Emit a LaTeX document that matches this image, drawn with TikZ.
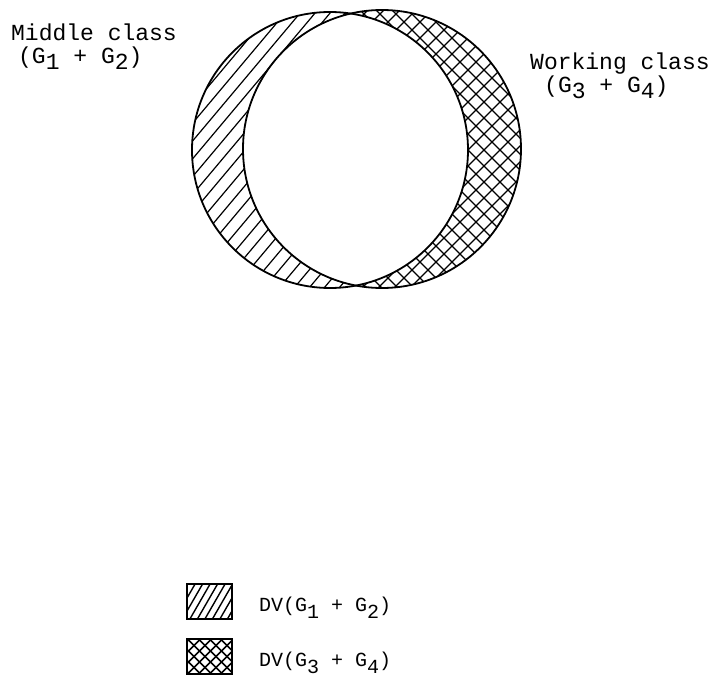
\documentclass[tikz,border=0pt]{standalone}
\usepackage{fontspec}
\setmonofont{Liberation Mono}
\newcommand\sbs[1]{\raisebox{-0.5ex}{#1}}
\newcommand\lsbs[1]{\raisebox{-0.7ex}{#1}}
\begin{document}
\begin{tikzpicture}[x=1pt,y=-1pt,
  lbl/.style={font=\ttfamily\fontsize{23}{23}\selectfont, inner sep=0pt, anchor=base west},
  leg/.style={font=\ttfamily\fontsize{20}{20}\selectfont, inner sep=0pt, anchor=base west},
  hatch/.style={line width=1.2pt},
  outline/.style={line width=1.8pt},
  legbox/.style={draw, line width=1.9pt, minimum width=45pt, minimum height=35pt, inner sep=0pt}]
\useasboundingbox (0,0) rectangle (716,683);
\coordinate (cl) at (330,150);
\coordinate (cr) at (382,149);
% left crescent: single hatching
\begin{scope}
  \clip (cl) circle (138);
  \foreach \x in {80,95,...,560}
    \draw[hatch] (\x,150) ++(-200,238) -- ++(400,-476);
\end{scope}
% right crescent: cross hatching
\begin{scope}
  \clip (cr) circle (139);
  \foreach \x in {100,116,...,700}
    {\draw[hatch] (\x,150) ++(-200,200) -- ++(400,-400);
     \draw[hatch] (\x,150) ++(-200,-200) -- ++(400,400);}
\end{scope}
% intersection white
\begin{scope}
  \clip (cl) circle (138);
  \fill[white] (cr) circle (139);
\end{scope}
\draw[outline] (cl) circle (138);
\draw[outline] (cr) circle (139);
% labels
\node[lbl] (mc) at (11,40) {Middle class};
\node[lbl] (mg) at (18,63.5) {(G\sbs{1} + G\sbs{2})};
\node[lbl] (wc) at (530,69) {Working class};
\node[lbl] (wg) at (544,92.5) {(G\sbs{3} + G\sbs{4})};
% legend
\node[legbox] (b1) at (209.5,601.5) {};
\node[legbox] (b2) at (209.5,656.5) {};
\begin{scope}
  \clip (b1.south west) rectangle (b1.north east);
  \foreach \x in {170,177.5,...,250}
    \draw[line width=1.4pt] (\x,601.5) ++(-15,26) -- ++(30,-52);
\end{scope}
\begin{scope}
  \clip (b2.south west) rectangle (b2.north east);
  \foreach \x in {150,161,...,270}
    {\draw[line width=1.6pt] (\x,656.5) ++(-30,30) -- ++(60,-60);
     \draw[line width=1.6pt] (\x,656.5) ++(-30,-30) -- ++(60,60);}
\end{scope}
\node[legbox] at (b1) {};
\node[legbox] at (b2) {};
\node[leg] (t1) at (259,611) {DV(G\lsbs{1} + G\lsbs{2})};
\node[leg] (t2) at (259,666) {DV(G\lsbs{3} + G\lsbs{4})};
\end{tikzpicture}
\end{document}
